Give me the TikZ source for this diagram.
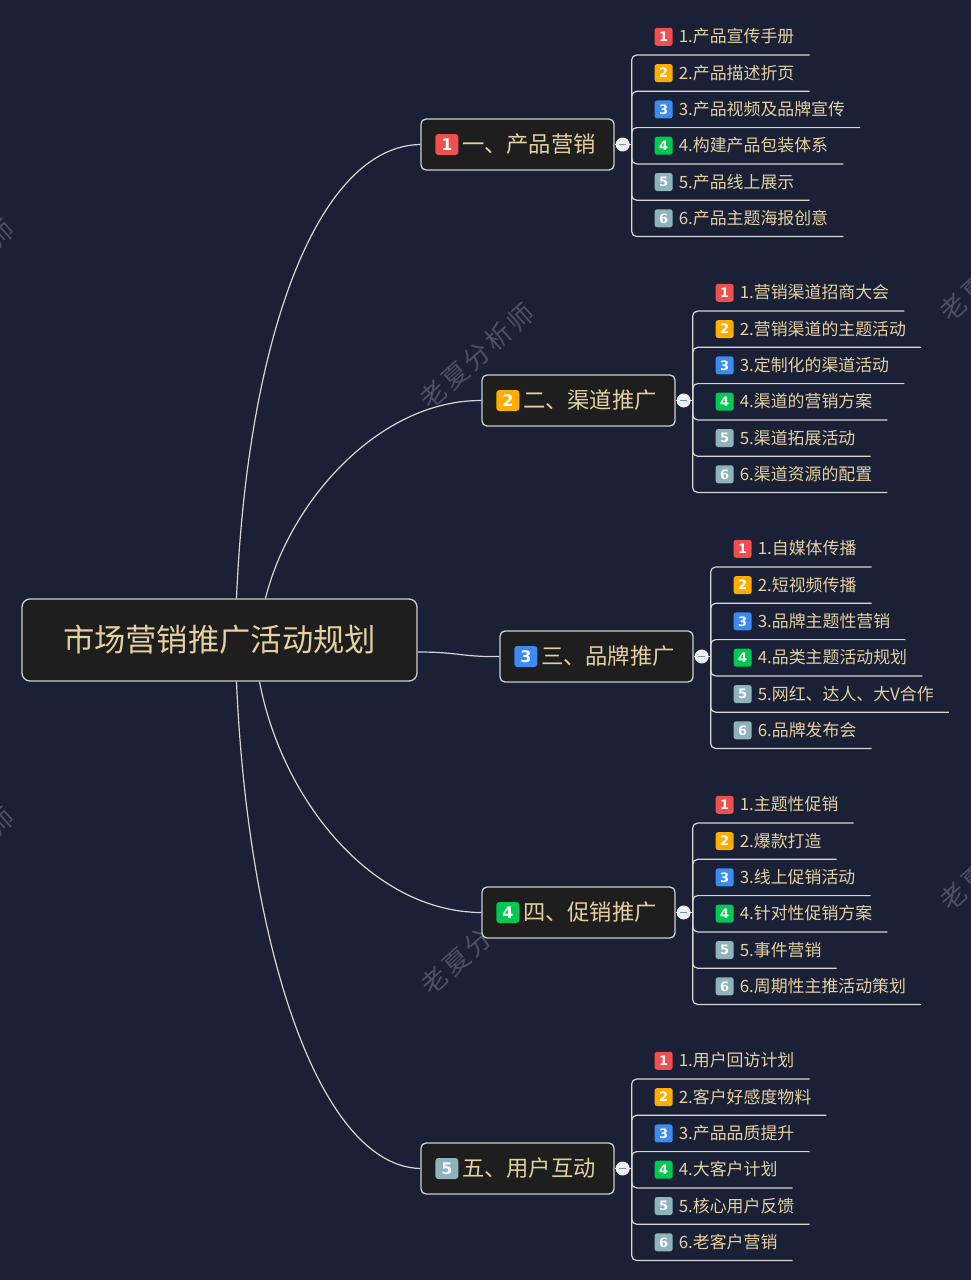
\documentclass[tikz,border=0pt]{standalone}
\usepackage{fontspec}
\setmainfont{Noto Sans CJK SC}
\newfontfamily\digitfont{DejaVu Sans}
\definecolor{bg}{HTML}{1A2035}
\definecolor{boxfill}{HTML}{1E1E1E}
\definecolor{boxline}{HTML}{CFCFCF}
\definecolor{txt}{HTML}{E4D0A0}
\definecolor{wmc}{HTML}{4A5066}
\definecolor{conc}{HTML}{D6D6D6}
\definecolor{minusc}{HTML}{7F8DAE}
\definecolor{ic1}{HTML}{EF4F4F}
\definecolor{ic2}{HTML}{FFAE00}
\definecolor{ic3}{HTML}{3D8BF2}
\definecolor{ic4}{HTML}{00C853}
\definecolor{ic5}{HTML}{8DB3BC}
\definecolor{ic6}{HTML}{8DB3BC}
\tikzset{
  wm/.style={text=wmc, rotate=42, font=\fontsize{26}{26}\selectfont, inner sep=0pt},
  rootbox/.style={draw=boxline, line width=1.3pt, fill=boxfill, rounded corners=8pt,
    minimum width=395pt, minimum height=82pt, inner sep=0pt, text=txt,
    font=\fontsize{31.3}{31.3}\selectfont},
  branch/.style={draw=boxline, line width=1.3pt, fill=boxfill, rounded corners=5pt,
    minimum width=193pt, minimum height=51pt, inner sep=0pt, text=txt,
    font=\fontsize{22.3}{22.3}\selectfont},
  bicon/.style={rounded corners=3pt, minimum width=23pt, minimum height=21pt, inner sep=0pt,
    text=white, font=\digitfont\bfseries\fontsize{16}{16}\selectfont},
  licon/.style={rounded corners=2.5pt, minimum width=18pt, minimum height=18pt, inner sep=0pt,
    text=white, font=\digitfont\bfseries\fontsize{13}{13}\selectfont},
  leaf/.style={minimum height=36pt, inner sep=0pt, text=txt, anchor=south west,
    font=\fontsize{16.9}{16.9}\selectfont, text height=12.8pt, text depth=0.8pt},
  conn/.style={draw=conc, line width=1.2pt},
  collapse/.style={circle, fill=white!88!gray, minimum size=14pt, inner sep=0pt,
    path picture={\draw[line width=1.6pt, minusc]
      ([xshift=-3.6pt]path picture bounding box.center) -- ([xshift=3.6pt]path picture bounding box.center);}},
}
\newcommand\mkleaves[7]{%
  \foreach \k/\txt in {1/#2,2/#3,3/#4,4/#5,5/#6,6/#7} {
    \node[leaf] (l#1\k) at ([yshift={89.5pt-36.3pt*(\k-1)}]bar#1) {\kern47pt\txt\kern15pt};
    \node[licon, fill=ic\k] (li#1\k) at ([xshift=32pt]l#1\k.west) {\k};
    \draw[conn, rounded corners=5pt] (bar#1) |- (l#1\k.south east);
  }%
}
\begin{document}
\begin{tikzpicture}[x=1pt,y=-1pt]
\useasboundingbox[fill=bg] (0,0) rectangle (971,1280);
% watermarks
\foreach \wx/\wy [count=\i] in {-43/272, 997/269, 477/356, -43/860, 997/858, 478/942}
  \node[wm] (wm\i) at (\wx,\wy) {老\kern3pt 夏\kern3pt 分\kern3pt 析\kern3pt 师};
% root
\node[rootbox] (root) at (219.5,640) {市场营销推广活动规划};
% branches
\foreach \i/\x/\y/\t in {1/517.5/144.5/一、产品营销,2/578.5/400.5/二、渠道推广,3/596.5/656.5/三、品牌推广,4/578.5/912.5/四、促销推广,5/517.5/1168.5/五、用户互动} {
  \node[branch] (b\i) at (\x,\y) {\makebox[193pt][l]{\kern41pt\t}};
  \node[bicon, fill=ic\i] (bi\i) at ([xshift=26.5pt]b\i.west) {\i};
  \coordinate (bar\i) at ([xshift=17pt]b\i.east);
  \draw[conn] (b\i.east) -- (bar\i);
}
% curves from root
\draw[conn] ([xshift=17pt]root.north) .. controls (248,330) and (320,146) .. (b1.west);
\draw[conn] ([xshift=46pt]root.north) .. controls (290,500) and (380,400) .. (b2.west);
\draw[conn] ([yshift=-12pt]root.east) .. controls (460,652) and (460,657) .. (b3.west);
\draw[conn] ([xshift=40pt]root.south) .. controls (282,800) and (372,912) .. (b4.west);
\draw[conn] ([xshift=17pt]root.south) .. controls (248,950) and (320,1166) .. (b5.west);
% leaves
\mkleaves{1}{1.产品宣传手册}{2.产品描述折页}{3.产品视频及品牌宣传}{4.构建产品包装体系}{5.产品线上展示}{6.产品主题海报创意}
\mkleaves{2}{1.营销渠道招商大会}{2.营销渠道的主题活动}{3.定制化的渠道活动}{4.渠道的营销方案}{5.渠道拓展活动}{6.渠道资源的配置}
\mkleaves{3}{1.自媒体传播}{2.短视频传播}{3.品牌主题性营销}{4.品类主题活动规划}{5.网红、达人、大V合作}{6.品牌发布会}
\mkleaves{4}{1.主题性促销}{2.爆款打造}{3.线上促销活动}{4.针对性促销方案}{5.事件营销}{6.周期性主推活动策划}
\mkleaves{5}{1.用户回访计划}{2.客户好感度物料}{3.产品品质提升}{4.大客户计划}{5.核心用户反馈}{6.老客户营销}
% collapse buttons
\foreach \i in {1,...,5}
  \node[collapse] (bc\i) at ([xshift=8pt]b\i.east) {};
\end{tikzpicture}
\end{document}
